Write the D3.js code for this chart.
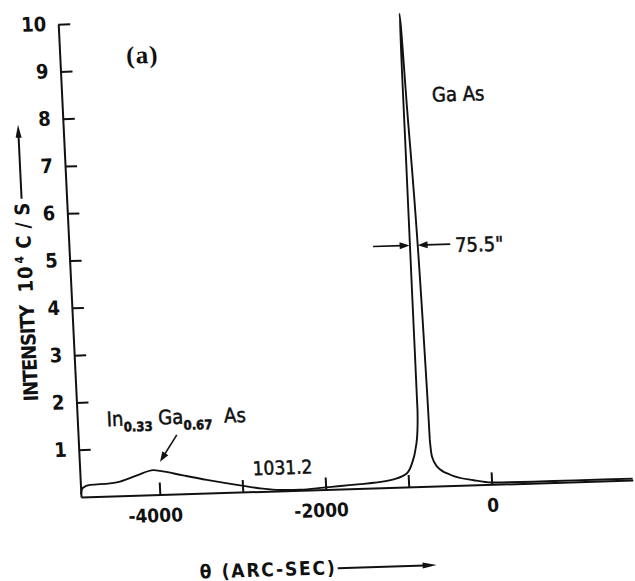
<!DOCTYPE html>
<html><head><meta charset="utf-8">
<script src="https://cdn.jsdelivr.net/npm/d3@7"></script>
<style>html,body{margin:0;padding:0;background:#fff;} svg{display:block}</style>
</head><body>
<svg id="chart" width="635" height="581"></svg>
<script>
// ---------------- data ----------------
const thetaArcSec = [-4950,-4925,-4834,-4592,-4472,-4263,-4063,-3983,-3709,-3426,-2989,-2760,-2549,-2308,-2026,-1823,-1581,-1420,-1177,-1013,-946,-898,-862,-850,-847,-842,-838,-800,-740,-724,-721,-719,-702,-646,-492,-214,6,500,1000,1700];
const intensity   = [0.06,0.19,0.25,0.27,0.30,0.42,0.52,0.50,0.39,0.28,0.13,0.06,0.02,0.01,0.04,0.065,0.09,0.11,0.17,0.29,0.50,0.78,1.20,1.60,4.0,7.0,10.0,7.97,4.01,2.0,1.40,0.98,0.62,0.41,0.23,0.10,0.04,0.03,0.03,0.03];
const yTicks = [1,2,3,4,5,6,7,8,9,10];
const yTickLabels = ["1","2","3","4","5","6","7","8","9","10"];
const xTicks = [-4000,-3000,-2000,-1000,0];
const xTickLabels = ["-4000","","-2000","","0"];
const fwhmLabel = "75.5\"";
const peakValueLabel = "1031.2";

// ---------------- drawing ----------------
const svg = d3.select("#chart");
svg.append("rect").attr("width",635).attr("height",581).attr("fill","#fff");
const INK = "#111";
const SANS = "'DejaVu Sans Condensed','Liberation Sans Narrow',sans-serif";
const NARROW = "'Liberation Sans Narrow','DejaVu Sans Condensed',sans-serif";

const g = svg.append("g").attr("transform","translate(81,497) rotate(-1.76) skewX(1)");

const xScale = d3.scaleLinear().domain([-4950, 1700]).range([0, 552]);
const yScale = d3.scaleLinear().domain([0, 10]).range([0, -473.3]);

// y axis
const yAxis = d3.axisLeft(yScale).tickValues(yTicks)
  .tickFormat((d,i)=>yTickLabels[i]).tickSizeInner(-12).tickSizeOuter(0).tickPadding(12);
const ya = g.append("g").call(yAxis);
ya.select(".domain").attr("stroke",INK).attr("stroke-width",2);
ya.selectAll(".tick line").attr("stroke",INK).attr("stroke-width",2);
ya.selectAll(".tick text").attr("fill",INK).attr("font-family",NARROW).attr("font-weight","bold")
  .attr("font-size",20).attr("dy","0.3em");

// x axis
const xAxis = d3.axisBottom(xScale).tickValues(xTicks)
  .tickFormat((d,i)=>xTickLabels[i]).tickSizeInner(-12).tickSizeOuter(0).tickPadding(14);
const xa = g.append("g").call(xAxis);
xa.select(".domain").attr("stroke",INK).attr("stroke-width",2);
xa.selectAll(".tick line").attr("stroke",INK).attr("stroke-width",2);
xa.selectAll(".tick text").attr("fill",INK).attr("font-family",SANS).attr("font-weight","bold")
  .attr("font-size",19).attr("dx",(d,i)=>xTickLabels[i].startsWith("-")?"-0.3em":"0");

// curve
const line = d3.line()
  .x(i=>xScale(thetaArcSec[i])).y(i=>yScale(intensity[i]))
  .curve(d3.curveMonotoneX);
g.append("path").attr("d", line(d3.range(thetaArcSec.length)))
  .attr("fill","none").attr("stroke",INK).attr("stroke-width",1.9).attr("stroke-linejoin","round");

// helpers
function arrow(x1,y1,x2,y2,len,w,sw){
  const a = Math.atan2(y2-y1,x2-x1);
  const bx = x2-len*Math.cos(a), by = y2-len*Math.sin(a);
  g.append("line").attr("x1",x1).attr("y1",y1).attr("x2",bx+Math.cos(a)*2).attr("y2",by+Math.sin(a)*2)
    .attr("stroke",INK).attr("stroke-width",sw);
  const px = Math.sin(a)*w/2, py = -Math.cos(a)*w/2;
  g.append("path").attr("d",`M${x2},${y2}L${bx+px},${by+py}L${bx-px},${by-py}Z`).attr("fill",INK);
}
function label(txt,x,y,opts={}){
  const t = g.append("text").attr("x",x).attr("y",y).attr("fill",INK)
    .attr("font-family",opts.family||SANS).attr("font-size",opts.size||20)
    .attr("font-weight",opts.weight||"bold").attr("text-anchor",opts.anchor||"start").text(txt);
  if(opts.ls) t.attr("letter-spacing",opts.ls);
  return t;
}

// (a)
label("(a)", xScale(-4150), yScale(9.12), {family:"'Liberation Serif','DejaVu Serif',serif", size:25, ls:1});
// Ga As
label("Ga As", xScale(-492), yScale(8.12), {size:20, weight:"normal"}).attr("stroke",INK).attr("stroke-width",0.5);
// FWHM arrows
arrow(xScale(-1290), yScale(5.1), xScale(-849), yScale(5.1), 10, 7, 1.6);
arrow(xScale(-360), yScale(5.1), xScale(-753), yScale(5.1), 10, 7, 1.6);
label(fwhmLabel, xScale(-302), yScale(4.93), {size:20, weight:"normal"}).attr("stroke",INK).attr("stroke-width",0.5);
// In0.33 Ga0.67 As
const comp = g.append("text").attr("x",xScale(-4596)).attr("y",yScale(1.48)).attr("fill",INK)
  .attr("font-family",SANS).attr("font-size",20).attr("stroke",INK).attr("stroke-width",0.5);
comp.append("tspan").text("In");
comp.append("tspan").attr("font-size",13).attr("dy",6).attr("font-weight","bold").text("0.33");
comp.append("tspan").attr("dx",6).attr("dy",-6).text("Ga");
comp.append("tspan").attr("font-size",13).attr("dy",6).attr("font-weight","bold").text("0.67");
comp.append("tspan").attr("dx",12).attr("dy",-6).text("As");
arrow(xScale(-3761), yScale(1.25), xScale(-3978), yScale(0.695), 10, 7, 1.6);
// 1031.2
label(peakValueLabel, xScale(-2868), yScale(0.35), {size:19, weight:"normal"}).attr("stroke",INK).attr("stroke-width",0.5);

// y title (rotated)
function vtext(txt, x, y0, y1, size){
  return g.append("text").attr("transform",`translate(${x},${y0}) rotate(-90)`)
    .attr("fill",INK).attr("font-family",SANS).attr("font-weight","bold").attr("font-size",size)
    .attr("textLength",Math.abs(y1-y0)).attr("lengthAdjust","spacing").text(txt);
}
vtext("INTENSITY", -38, -97, -194, 20);
const tt = g.append("text").attr("transform",`translate(-38,-206) rotate(-90)`)
  .attr("fill",INK).attr("font-family",SANS).attr("font-weight","bold").attr("font-size",20);
tt.append("tspan").attr("letter-spacing",1).text("10");
tt.append("tspan").attr("font-size",12).attr("dy",-8).attr("dx",2).text("4");
vtext("C/S", -38, -250, -296, 20);
arrow(-45, -300, -45, -374, 13, 6, 2);

// x title
label("θ", 115, 85, {size:19});
label("(ARC-SEC)", 137, 85, {size:19}).attr("textLength",113).attr("lengthAdjust","spacing");
arrow(253, 79, 352, 79, 14, 6, 2);
</script>
</body></html>
